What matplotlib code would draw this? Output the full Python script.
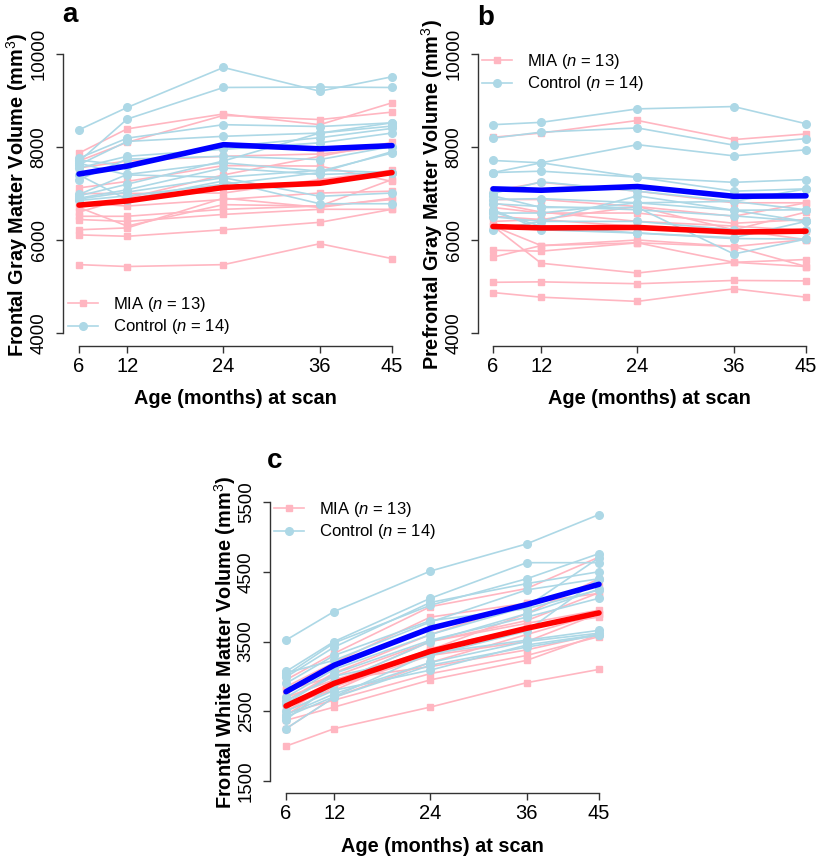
import matplotlib
matplotlib.use("Agg")
import matplotlib.pyplot as plt

plt.rcParams["font.family"] = ["Liberation Sans", "DejaVu Sans"]
plt.rcParams["mathtext.fontset"] = "custom"
plt.rcParams["mathtext.rm"] = "Liberation Sans"
plt.rcParams["mathtext.it"] = "Liberation Sans:italic"
plt.rcParams["mathtext.bf"] = "Liberation Sans:bold"

ages = [6, 12, 24, 36, 45]

# panel a: frontal gray matter
a_mia = [
    [7870, 8390, 8710, 8480, 8950],
    [7700, 8100, 8680, 8590, 8750],
    [7550, 7700, 7800, 7850, 8010],
    [7120, 7260, 7600, 7590, 7260],
    [7000, 7000, 7010, 7300, 7500],
    [6800, 6730, 6870, 7010, 7050],
    [6600, 6900, 7400, 7800, 8100],
    [6510, 6510, 6660, 6730, 6870],
    [6440, 6400, 6550, 6660, 6660],
    [6220, 6260, 6900, 6700, 6900],
    [6110, 6080, 6220, 6380, 6660],
    [6700, 6300, 6760, 6730, 7300],
    [5470, 5430, 5470, 5920, 5600],
]
a_ctrl = [
    [8370, 8850, 9710, 9200, 9510],
    [7690, 8600, 9280, 9290, 9280],
    [7760, 8190, 8480, 8440, 8520],
    [7620, 8120, 8230, 8300, 8450],
    [7550, 7800, 7950, 8090, 8300],
    [7300, 7740, 7800, 7730, 8010],
    [6980, 7410, 7660, 7480, 7870],
    [6900, 7080, 7550, 7410, 7450],
    [6880, 7030, 7340, 6940, 7010],
    [7400, 6870, 7270, 6780, 6780],
    [7720, 7600, 8000, 8200, 8400],
    [6950, 7200, 7700, 8300, 8520],
    [7650, 7400, 7350, 7500, 7450],
    [6850, 6950, 7200, 7450, 7900],
]
a_mia_mean = [6750, 6840, 7130, 7220, 7450]
a_ctrl_mean = [7420, 7590, 8050, 7960, 8030]

# panel b: prefrontal gray matter
b_mia = [
    [8210, 8300, 8570, 8160, 8280],
    [7050, 7240, 7050, 6800, 6800],
    [6870, 6870, 6720, 6510, 6800],
    [6700, 6580, 6580, 6360, 6440],
    [6510, 6440, 6720, 6220, 6600],
    [6400, 6440, 6290, 6220, 6010],
    [6300, 5880, 5940, 5860, 5430],
    [5780, 5760, 5940, 5520, 5580],
    [5630, 5880, 6000, 5860, 6010],
    [6300, 5500, 5290, 5520, 5430],
    [5090, 5100, 5060, 5130, 5120],
    [4870, 4770, 4680, 4950, 4770],
    [6800, 6600, 6400, 6300, 6200],
]
b_ctrl = [
    [8480, 8530, 8820, 8870, 8500],
    [8190, 8320, 8410, 8040, 8180],
    [7450, 7660, 8050, 7810, 7940],
    [7710, 7660, 7350, 7240, 7300],
    [7450, 7480, 7350, 7050, 7100],
    [7000, 7250, 7050, 6830, 7100],
    [6870, 6890, 6800, 6640, 6650],
    [6780, 6720, 6650, 6520, 6400],
    [6580, 6580, 6800, 6830, 6650],
    [6220, 6400, 6400, 6220, 6220],
    [6650, 6220, 6150, 6030, 6020],
    [6950, 6700, 6700, 5700, 6020],
    [6500, 6400, 6950, 6640, 6400],
    [6600, 6300, 6150, 6050, 6400],
]
b_mia_mean = [6290, 6260, 6270, 6170, 6190]
b_ctrl_mean = [7100, 7070, 7150, 6940, 6950]

# panel c: frontal white matter
c_mia = [
    [2950, 3330, 4000, 4260, 4710],
    [2850, 3200, 3850, 4050, 4190],
    [2800, 3000, 3500, 3760, 3950],
    [2700, 2950, 3380, 3900, 4400],
    [2600, 2800, 3400, 3700, 3850],
    [2550, 2950, 3140, 3380, 3610],
    [2470, 2660, 3040, 3300, 3570],
    [2370, 2560, 2950, 3230, 3600],
    [2250, 2700, 3200, 3600, 3900],
    [2000, 2250, 2560, 2910, 3100],
    [2650, 3050, 3600, 4050, 4300],
    [2450, 2850, 3300, 3500, 3900],
    [2500, 2900, 3500, 3800, 4200],
]
c_ctrl = [
    [3520, 3930, 4510, 4900, 5320],
    [3070, 3500, 4120, 4630, 4630],
    [3020, 3480, 4020, 4400, 4760],
    [2990, 3420, 4060, 4330, 4500],
    [3050, 3230, 3780, 4240, 4400],
    [2900, 3300, 3800, 3970, 4240],
    [2610, 3040, 3520, 3850, 4120],
    [2700, 3100, 3600, 4000, 4700],
    [2420, 2710, 3330, 3520, 3660],
    [2250, 2700, 3160, 3420, 3590],
    [2500, 2800, 3090, 3450, 3600],
    [2380, 2900, 3500, 3900, 4250],
    [2650, 3000, 3300, 3650, 4400],
    [2450, 2750, 3200, 3500, 3620],
]
c_mia_mean = [2575, 2900, 3360, 3690, 3910]
c_ctrl_mean = [2780, 3160, 3690, 4030, 4320]

W, H = 820, 860
fig = plt.figure(figsize=(W / 100, H / 100), dpi=100)

PINK = "#ffb6c1"
LBLUE = "#add8e6"


def panel(left, bottom, px6, px45, yticks, py_lo, py_hi, mia, ctrl, mia_m, ctrl_m,
          ylabel, ylab_x, letter, letter_xy, leg_xy):
    right = px45 + 12.5
    top = py_hi - 11
    ax = fig.add_axes([left / W, 1 - bottom / H, (right - left) / W, (bottom - top) / H])
    ppx = (px45 - px6) / (45 - 6)
    ax.set_xlim(6 - (px6 - left) / ppx, 45 + (right - px45) / ppx)
    ppy = (py_lo - py_hi) / (yticks[-1] - yticks[0])
    ax.set_ylim(yticks[0] - (bottom - py_lo) / ppy, yticks[-1] + (py_hi - top) / ppy)

    for i, row in enumerate(mia):
        ax.plot(ages, row, color=PINK, lw=1.2, marker="s", ms=5, mec=PINK,
                label="MIA ($n$ = 13)" if i == 0 else None)
    for i, row in enumerate(ctrl):
        ax.plot(ages, row, color=LBLUE, lw=1.2, marker="o", ms=5.5, mec=LBLUE,
                label="Control ($n$ = 14)" if i == 0 else None)
    ax.plot(ages, ctrl_m, color="#0000ff", lw=4.0, solid_capstyle="round")
    ax.plot(ages, mia_m, color="#ff0000", lw=4.0, solid_capstyle="round")

    for s in ["top", "right"]:
        ax.spines[s].set_visible(False)
    ax.spines["left"].set_bounds(yticks[0], yticks[-1])
    ax.spines["bottom"].set_bounds(6, 45)
    for s in ["left", "bottom"]:
        ax.spines[s].set_color("#333333")
        ax.spines[s].set_linewidth(1.0)
    ax.set_xticks(ages)
    ax.set_yticks(yticks)
    ax.tick_params(axis="both", length=5, width=1.0, color="#333333")
    ax.tick_params(axis="x", pad=3, labelsize=14.5)
    ax.tick_params(axis="y", pad=6, labelrotation=90, labelsize=13.4)
    for t in ax.get_yticklabels():
        t.set_va("center")

    fig.text(ylab_x / W, 1 - (top + bottom) / 2 / H, ylabel, rotation=90,
             ha="center", va="center", fontsize=14.3, fontweight="bold")
    fig.text(((px6 + px45) / 2) / W, 1 - (bottom + 53) / H, "Age (months) at scan",
             ha="center", va="center", fontsize=14.3, fontweight="bold")
    fig.text(letter_xy[0] / W, 1 - letter_xy[1] / H, letter, ha="left", va="baseline",
             fontsize=20, fontweight="bold")
    ax.legend(loc="upper left", bbox_to_anchor=(leg_xy[0] / W, 1 - leg_xy[1] / H),
              bbox_transform=fig.transFigure, frameon=False, fontsize=12,
              handlelength=1.8, handletextpad=0.9, labelspacing=0.2,
              borderpad=0, borderaxespad=0)
    return ax


panel(63, 346, 79, 392, [4000, 6000, 8000, 10000], 333, 54, a_mia, a_ctrl,
      a_mia_mean, a_ctrl_mean, "Frontal Gray Matter Volume (mm$^{3}$)", 17, "a",
      (62, 22), (68, 295))
panel(478, 346, 493, 806, [4000, 6000, 8000, 10000], 333, 54, b_mia, b_ctrl,
      b_mia_mean, b_ctrl_mean, "Prefrontal Gray Matter Volume (mm$^{3}$)", 432, "b",
      (477, 25), (482, 52))
panel(270, 793, 286, 599, [1500, 2500, 3500, 4500, 5500], 781, 502, c_mia, c_ctrl,
      c_mia_mean, c_ctrl_mean, "Frontal White Matter Volume (mm$^{3}$)", 225, "c",
      (267, 468), (274, 500))

fig.savefig("out.png", dpi=100)
